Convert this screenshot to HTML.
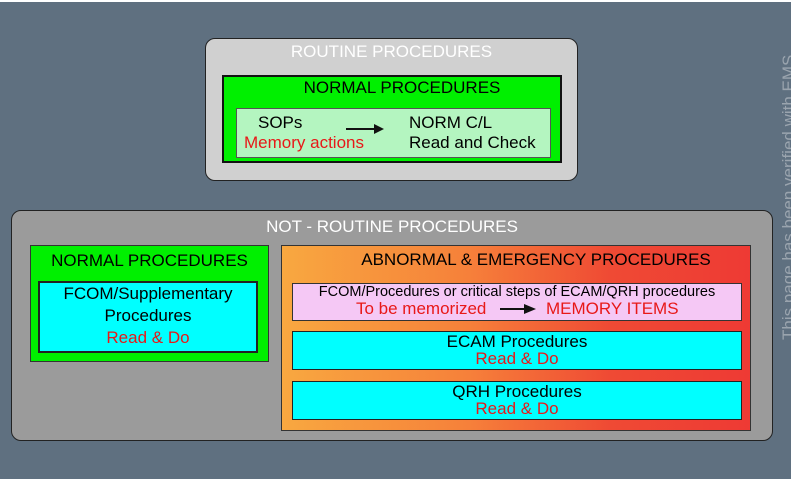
<!DOCTYPE html>
<html><head><style>
body{margin:0;width:791px;height:479px;background:#5f7080;position:relative;overflow:hidden;font-family:"Liberation Sans",sans-serif;}
.a{position:absolute;box-sizing:border-box;}
.t{position:absolute;left:0;right:0;text-align:center;white-space:nowrap;}
.r{color:#e81818;}
</style></head><body>
<div class="a" style="left:0;top:0;width:791px;height:2px;background:#fff"></div>
<!-- routine -->
<div class="a" style="left:205px;top:38px;width:373px;height:143px;background:#d0d0d0;border:1.5px solid #222;border-radius:10px"></div>
<div class="t" style="left:205px;width:373px;top:42px;color:#fff;font-size:17px">ROUTINE PROCEDURES</div>
<div class="a" style="left:222px;top:75px;width:340px;height:88px;background:#00f000;border:2px solid #111"></div>
<div class="t" style="left:222px;width:340px;top:78px;font-size:17px;padding-left:10px">NORMAL PROCEDURES</div>
<div class="a" style="left:236px;top:108px;width:315px;height:50px;background:#b4f5c0;border:1px solid #555"></div>
<div class="a" style="left:258px;top:113px;font-size:17px">SOPs</div>
<div class="a r" style="left:244px;top:133px;font-size:17px">Memory actions</div>
<div class="a" style="left:346px;top:128px;width:30px;height:2px;background:#111"></div>
<div class="a" style="left:374px;top:124px;width:0;height:0;border-left:10px solid #111;border-top:5px solid transparent;border-bottom:5px solid transparent"></div>
<div class="a" style="left:409px;top:113px;font-size:17px">NORM C/L</div>
<div class="a" style="left:409px;top:133px;font-size:17px">Read and Check</div>
<!-- not routine -->
<div class="a" style="left:11px;top:210px;width:762px;height:231px;background:#9b9b9b;border:1.5px solid #222;border-radius:10px"></div>
<div class="t" style="left:11px;width:762px;top:217px;color:#fff;font-size:17px">NOT - ROUTINE PROCEDURES</div>
<div class="a" style="left:30px;top:245px;width:239px;height:117px;background:#00f000;border:1px solid #333"></div>
<div class="t" style="left:30px;width:239px;top:251px;font-size:17px">NORMAL PROCEDURES</div>
<div class="a" style="left:38px;top:281px;width:220px;height:72px;background:#00ffff;border:2px solid #222"></div>
<div class="t" style="left:38px;width:220px;top:284px;font-size:17px">FCOM/Supplementary</div>
<div class="t" style="left:38px;width:220px;top:306px;font-size:17px">Procedures</div>
<div class="t r" style="left:38px;width:220px;top:328px;font-size:17px">Read &amp; Do</div>
<div class="a" style="left:281px;top:245px;width:470px;height:186px;background:linear-gradient(90deg,#f8a840 0%,#f6803a 40%,#ef4a34 70%,#ee3a34 100%);border:1px solid #333"></div>
<div class="t" style="left:281px;width:470px;top:250px;font-size:17px;padding-left:20px">ABNORMAL &amp; EMERGENCY PROCEDURES</div>
<div class="a" style="left:292px;top:283px;width:450px;height:38px;background:#f5c8f5;border:1px solid #333"></div>
<div class="t" style="left:292px;width:450px;top:284px;font-size:14.5px">FCOM/Procedures or critical steps of ECAM/QRH procedures</div>
<div class="a r" style="left:356px;top:299px;font-size:17px">To be memorized</div>
<div class="a" style="left:500px;top:308px;width:26px;height:2px;background:#111"></div>
<div class="a" style="left:524px;top:304px;width:0;height:0;border-left:12px solid #111;border-top:5px solid transparent;border-bottom:5px solid transparent"></div>
<div class="a r" style="left:546px;top:299px;font-size:17px">MEMORY ITEMS</div>
<div class="a" style="left:292px;top:331px;width:450px;height:39px;background:#00ffff;border:1.5px solid #222"></div>
<div class="t" style="left:292px;width:450px;top:332px;font-size:17px">ECAM Procedures</div>
<div class="t r" style="left:292px;width:450px;top:349px;font-size:17px">Read &amp; Do</div>
<div class="a" style="left:292px;top:381px;width:450px;height:39px;background:#00ffff;border:1.5px solid #222"></div>
<div class="t" style="left:292px;width:450px;top:382px;font-size:17px">QRH Procedures</div>
<div class="t r" style="left:292px;width:450px;top:399px;font-size:17px">Read &amp; Do</div>
<!-- watermark -->
<div class="a" style="left:787px;top:0;transform-origin:0 0;color:#9aa4ae;font-size:17px;white-space:nowrap;transform:translate(-8px,340px) rotate(-90deg)">This page has been verified with EMS</div>
</body></html>
